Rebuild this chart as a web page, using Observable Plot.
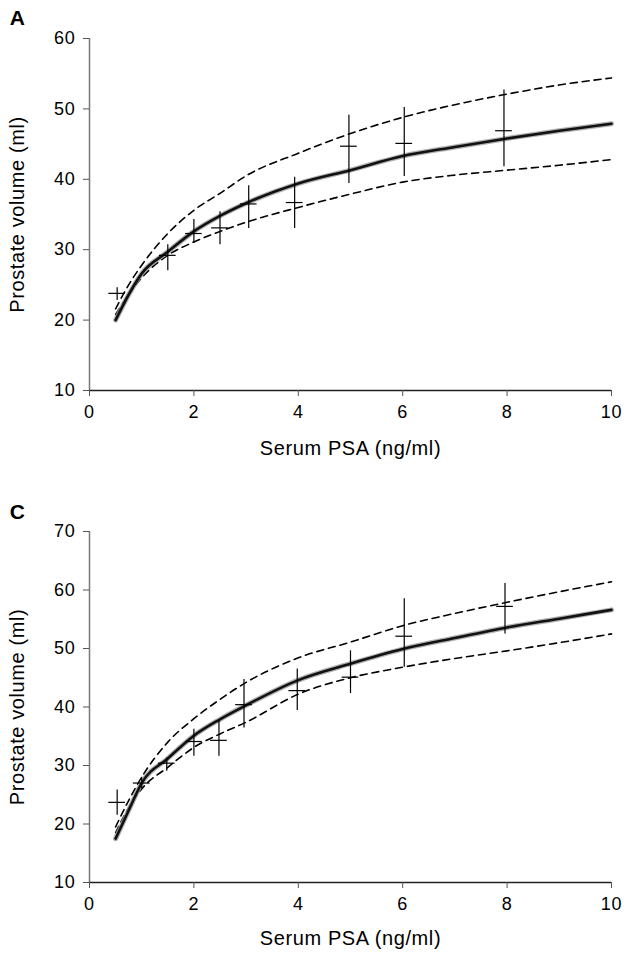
<!DOCTYPE html>
<html>
<head>
<meta charset="utf-8">
<script src="https://cdn.jsdelivr.net/npm/d3@7"></script>
<script src="https://cdn.jsdelivr.net/npm/@observablehq/plot@0.6"></script>
<style>
  html, body { margin: 0; padding: 0; background: #fff; }
  #chart { width: 625px; }
  #chart svg { display: block; }
  #chart g[aria-label="text"] text { letter-spacing: 0.6px; }
  #chart g[aria-label="x-axis tick label"] text,
  #chart g[aria-label="y-axis tick label"] text { letter-spacing: 0.8px; }
</style>
</head>
<body>
<div id="chart"></div>
<script>
// ---------- shared ----------
const xTicks = [0, 2, 4, 6, 8, 10];
const xLabel = "Serum PSA (ng/ml)";
const yLabel = "Prostate volume (ml)";
const curveX = [0.5, 0.75, 1, 1.5, 2, 2.5, 3, 4, 5, 6, 7, 8, 9, 10];

// ---------- panel A ----------
const yTicksA = [10, 20, 30, 40, 50, 60];
const fitA   = [20.0, 23.6, 26.6, 29.7, 32.6, 34.8, 36.6, 39.4, 41.3, 43.3, 44.6, 45.8, 46.9, 47.9];
const upperA = [21.6, 25.0, 27.8, 32.3, 35.6, 38.0, 40.5, 43.7, 46.5, 48.8, 50.6, 52.1, 53.4, 54.4];
const lowerA = [20.8, 23.6, 26.0, 29.2, 31.1, 32.6, 33.9, 36.0, 37.9, 39.6, 40.6, 41.3, 42.0, 42.8];
const obsXA    = [0.53, 1.5, 2.0, 2.5, 3.05, 3.93, 4.97, 6.03, 7.94];
const obsMeanA = [23.8, 29.2, 32.3, 33.1, 36.5, 36.7, 44.7, 45.1, 46.9];
const obsLowA  = [22.8, 27.0, 30.9, 30.7, 33.0, 33.0, 39.4, 40.4, 41.8];
const obsHighA = [24.6, 30.7, 34.3, 35.4, 39.1, 40.3, 49.1, 50.2, 52.7];

// ---------- panel C ----------
const yTicksC = [10, 20, 30, 40, 50, 60, 70];
const fitC   = [17.5, 22.3, 27.0, 31.2, 35.1, 37.9, 40.3, 44.6, 47.4, 49.9, 51.8, 53.6, 55.1, 56.6];
const upperC = [19.5, 24.0, 28.0, 34.0, 38.0, 41.3, 44.2, 48.4, 51.1, 53.9, 56.0, 57.9, 59.7, 61.4];
const lowerC = [18.5, 22.8, 26.0, 29.7, 33.1, 35.4, 37.4, 42.2, 45.0, 46.8, 48.3, 49.6, 51.0, 52.5];
const obsXC    = [0.53, 1.0, 1.48, 2.0, 2.48, 2.96, 3.98, 5.0, 6.03, 7.96];
const obsMeanC = [23.7, 27.0, 30.4, 34.1, 34.3, 40.4, 42.8, 45.1, 52.1, 57.2];
const obsLowC  = [21.5, 26.0, 29.0, 31.6, 31.6, 36.4, 39.4, 42.3, 46.8, 52.5];
const obsHighC = [25.8, 28.0, 31.3, 36.2, 37.6, 44.7, 46.5, 49.6, 58.5, 61.1];

const FONT = "'Liberation Sans', Arial, Helvetica, sans-serif";

function panel({letter, yTicks, fit, upper, lower, ox, om, ol, oh, height, marginTop, marginBottom, titleDy, letterDy}) {
  const curve = curveX.map((x, i) => ({x, fit: fit[i], upper: upper[i], lower: lower[i]}));
  const obs = ox.map((x, i) => ({x, mean: om[i], low: ol[i], high: oh[i]}));
  const half = 0.16; // half-width of the horizontal mean tick, in x units
  return Plot.plot({
    width: 625,
    height,
    marginLeft: 89,
    marginRight: 14,
    marginTop,
    marginBottom,
    style: {fontFamily: FONT, fontSize: "18px", color: "#000", background: "#fff"},
    x: {domain: [0, 10]},
    y: {domain: [yTicks[0], yTicks[yTicks.length - 1]]},
    marks: [
      Plot.ruleX([0], {stroke: "#777", strokeWidth: 1.5}),
      Plot.ruleY([yTicks[0]], {stroke: "#222", strokeWidth: 1.3}),
      Plot.axisX({ticks: xTicks, tickSize: 6, tickPadding: 9, stroke: "#555", label: null, fontSize: 18}),
      Plot.axisY({ticks: yTicks, tickSize: 6, tickPadding: 8, stroke: "#555", label: null, fontSize: 18}),
      // confidence bands (dashed)
      Plot.line(curve, {x: "x", y: "upper", curve: "monotone-x", stroke: "#000", strokeWidth: 1.6, strokeDasharray: "7,5"}),
      Plot.line(curve, {x: "x", y: "lower", curve: "monotone-x", stroke: "#000", strokeWidth: 1.6, strokeDasharray: "7,5"}),
      // fitted curve (soft halo + dark core)
      Plot.line(curve, {x: "x", y: "fit", curve: "monotone-x", stroke: "#9a9a9a", strokeWidth: 5, strokeOpacity: 0.8}),
      Plot.line(curve, {x: "x", y: "fit", curve: "monotone-x", stroke: "#111", strokeWidth: 2.6}),
      // observed means with error bars
      Plot.ruleX(obs, {x: "x", y1: "low", y2: "high", stroke: "#000", strokeWidth: 1.2}),
      Plot.ruleY(obs, {y: "mean", x1: d => d.x - half, x2: d => d.x + half, stroke: "#000", strokeWidth: 1.2}),
      // titles
      Plot.text([xLabel], {frameAnchor: "bottom", lineAnchor: "middle", dy: titleDy, text: d => d, fontSize: 20, fill: "#000"}),
      Plot.text([yLabel], {frameAnchor: "left", lineAnchor: "middle", textAnchor: "middle", dx: -72, rotate: -90, text: d => d, fontSize: 20, fill: "#000"}),
      Plot.text([letter], {frameAnchor: "top-left", textAnchor: "middle", lineAnchor: "middle", dx: -72, dy: letterDy, text: d => d, fontSize: 21, fontWeight: "bold", fill: "#000"})
    ]
  });
}

const chart = document.getElementById("chart");
chart.appendChild(panel({
  letter: "A", yTicks: yTicksA, fit: fitA, upper: upperA, lower: lowerA,
  ox: obsXA, om: obsMeanA, ol: obsLowA, oh: obsHighA,
  height: 465, marginTop: 38, marginBottom: 75, titleDy: 58, letterDy: -20
}));
chart.appendChild(panel({
  letter: "C", yTicks: yTicksC, fit: fitC, upper: upperC, lower: lowerC,
  ox: obsXC, om: obsMeanC, ol: obsLowC, oh: obsHighC,
  height: 489, marginTop: 66, marginBottom: 72, titleDy: 56, letterDy: -19
}));
</script>
</body>
</html>
